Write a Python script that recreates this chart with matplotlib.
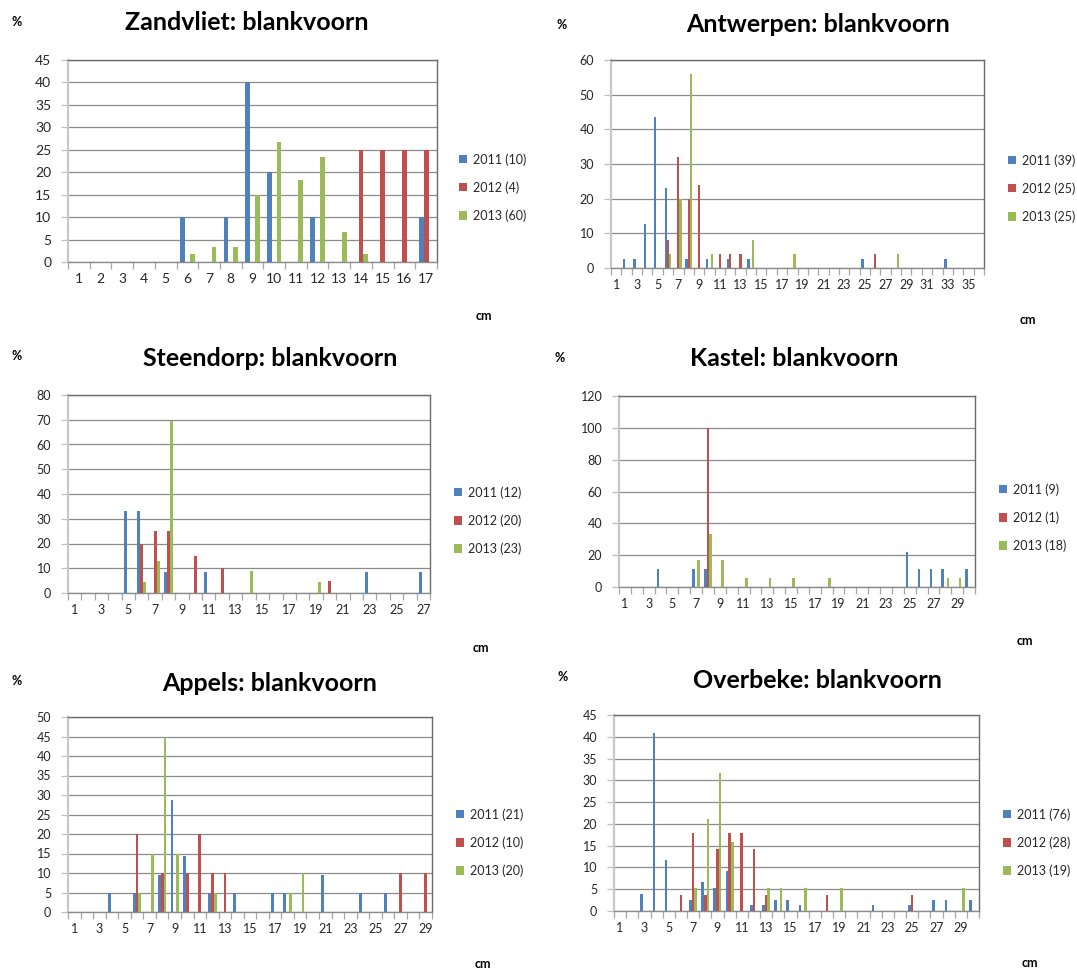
import matplotlib
matplotlib.use('Agg')
import matplotlib.pyplot as plt
import numpy as np
from matplotlib.patches import Patch

plt.rcParams['font.family'] = ['Lato', 'DejaVu Sans']

W, H = 1077, 972
years = ['2011', '2012', '2013']
colors = ['#4F81BD', '#C0504D', '#9BBB59']

# ---------------- data (cm class -> % per year) ----------------
zand_ncat = 17
zand_n = [10, 4, 60]
zand_2011_cm = [6, 8, 9, 10, 12, 17]
zand_2011_pct = [10, 10, 40, 20, 10, 10]
zand_2012_cm = [14, 15, 16, 17]
zand_2012_pct = [25, 25, 25, 25]
zand_2013_cm = [6, 7, 8, 9, 10, 11, 12, 13, 14]
zand_2013_pct = [1.7, 3.3, 3.3, 15, 26.7, 18.3, 23.3, 6.7, 1.7]

antw_ncat = 36
antw_n = [39, 25, 25]
antw_2011_cm = [2, 3, 4, 5, 6, 8, 10, 12, 14, 25, 33]
antw_2011_pct = [2.6, 2.6, 12.8, 43.6, 23.1, 2.6, 2.6, 2.6, 2.6, 2.6, 2.6]
antw_2012_cm = [6, 7, 8, 9, 11, 12, 13, 26]
antw_2012_pct = [8, 32, 20, 24, 4, 4, 4, 4]
antw_2013_cm = [6, 7, 8, 10, 14, 18, 28]
antw_2013_pct = [4, 20, 56, 4, 8, 4, 4]

steen_ncat = 27
steen_n = [12, 20, 23]
steen_2011_cm = [5, 6, 8, 11, 23, 27]
steen_2011_pct = [33.3, 33.3, 8.3, 8.3, 8.3, 8.3]
steen_2012_cm = [6, 7, 8, 10, 12, 20]
steen_2012_pct = [20, 25, 25, 15, 10, 5]
steen_2013_cm = [6, 7, 8, 14, 19]
steen_2013_pct = [4.3, 13.0, 69.6, 8.7, 4.3]

kast_ncat = 30
kast_n = [9, 1, 18]
kast_2011_cm = [4, 7, 8, 25, 26, 27, 28, 30]
kast_2011_pct = [11.1, 11.1, 11.1, 22.2, 11.1, 11.1, 11.1, 11.1]
kast_2012_cm = [8]
kast_2012_pct = [100]
kast_2013_cm = [7, 8, 9, 11, 13, 15, 18, 28, 29]
kast_2013_pct = [16.7, 33.3, 16.7, 5.6, 5.6, 5.6, 5.6, 5.6, 5.6]

app_ncat = 29
app_n = [21, 10, 20]
app_2011_cm = [4, 6, 8, 9, 10, 12, 14, 17, 18, 21, 24, 26]
app_2011_pct = [4.8, 4.8, 9.5, 28.6, 14.3, 4.8, 4.8, 4.8, 4.8, 9.5, 4.8, 4.8]
app_2012_cm = [6, 8, 10, 11, 12, 13, 27, 29]
app_2012_pct = [20, 10, 10, 20, 10, 10, 10, 10]
app_2013_cm = [6, 7, 8, 9, 12, 18, 19]
app_2013_pct = [5, 15, 45, 15, 5, 5, 10]

over_ncat = 30
over_n = [76, 28, 19]
over_2011_cm = [3, 4, 5, 7, 8, 9, 10, 12, 13, 14, 15, 16, 22, 25, 27, 28, 30]
over_2011_pct = [3.9, 40.8, 11.8, 2.6, 6.6, 5.3, 9.2, 1.3, 1.3, 2.6, 2.6, 1.3, 1.3, 1.3, 2.6, 2.6, 2.6]
over_2012_cm = [6, 7, 8, 9, 10, 11, 12, 13, 18, 25]
over_2012_pct = [3.6, 17.9, 3.6, 14.3, 17.9, 17.9, 14.3, 3.6, 3.6, 3.6]
over_2013_cm = [7, 8, 9, 10, 13, 14, 16, 19, 29]
over_2013_pct = [5.3, 21.1, 31.6, 15.8, 5.3, 5.3, 5.3, 5.3, 5.3]

panels = [
    dict(title='Zandvliet: blankvoorn', ncat=zand_ncat, n=zand_n,
         series=[(zand_2011_cm, zand_2011_pct), (zand_2012_cm, zand_2012_pct), (zand_2013_cm, zand_2013_pct)],
         ymax=45, ystep=5, every=1, rect=(68, 60, 437, 262), tpos=(247, 22), ppos=(17, 22),
         lpos=(459, 153), cpos=(484, 316), fs=10),
    dict(title='Antwerpen: blankvoorn', ncat=antw_ncat, n=antw_n,
         series=[(antw_2011_cm, antw_2011_pct), (antw_2012_cm, antw_2012_pct), (antw_2013_cm, antw_2013_pct)],
         ymax=60, ystep=10, every=2, rect=(611, 60, 984, 268), tpos=(818, 25), ppos=(562, 25),
         lpos=(1008, 154), cpos=(1028, 320), fs=9),
    dict(title='Steendorp: blankvoorn', ncat=steen_ncat, n=steen_n,
         series=[(steen_2011_cm, steen_2011_pct), (steen_2012_cm, steen_2012_pct), (steen_2013_cm, steen_2013_pct)],
         ymax=80, ystep=10, every=2, rect=(68, 395, 430, 593), tpos=(270, 358), ppos=(17, 356),
         lpos=(454, 486), cpos=(481, 648), fs=9),
    dict(title='Kastel: blankvoorn', ncat=kast_ncat, n=kast_n,
         series=[(kast_2011_cm, kast_2011_pct), (kast_2012_cm, kast_2012_pct), (kast_2013_cm, kast_2013_pct)],
         ymax=120, ystep=20, every=2, rect=(619, 396, 975, 587), tpos=(794, 358), ppos=(560, 358),
         lpos=(999, 483), cpos=(1025, 641), fs=9),
    dict(title='Appels: blankvoorn', ncat=app_ncat, n=app_n,
         series=[(app_2011_cm, app_2011_pct), (app_2012_cm, app_2012_pct), (app_2013_cm, app_2013_pct)],
         ymax=50, ystep=5, every=2, rect=(68, 717, 432, 912), tpos=(270, 683), ppos=(17, 681),
         lpos=(456, 808), cpos=(483, 964), fs=9),
    dict(title='Overbeke: blankvoorn', ncat=over_ncat, n=over_n,
         series=[(over_2011_cm, over_2011_pct), (over_2012_cm, over_2012_pct), (over_2013_cm, over_2013_pct)],
         ymax=45, ystep=5, every=2, rect=(614, 715, 979, 911), tpos=(817, 681), ppos=(563, 677),
         lpos=(1003, 808), cpos=(1030, 963), fs=9),
]

fig = plt.figure(figsize=(W / 100, H / 100), dpi=100)

def fx(x):
    return x / W

def fy(y):
    return 1 - y / H

for p in panels:
    l, t, r, b = p['rect']
    ax = fig.add_axes([fx(l), fy(b), (r - l) / W, (b - t) / H])
    N = p['ncat']
    cats = np.arange(1, N + 1)
    w = 1 / 4.5
    handles = []
    for i, ((cm, pct), c, yr, nn) in enumerate(zip(p['series'], colors, years, p['n'])):
        vals = np.zeros(N)
        vals[np.array(cm) - 1] = pct
        mask = vals > 0
        ax.bar(cats[mask] + (i - 1) * w, vals[mask], width=w, color=c, linewidth=0, zorder=3)
        handles.append(Patch(facecolor=c, edgecolor='none', label=f'{yr} ({nn})'))

    ax.set_xlim(0.5, N + 0.5)
    ax.set_ylim(0, p['ymax'])
    yt = np.arange(0, p['ymax'] + 0.1, p['ystep'])
    ax.set_yticks(yt)
    ax.set_yticklabels([f'{v:g}' for v in yt], fontsize=p['fs'], color='#262626')
    ax.yaxis.grid(True, color='#8c8c8c', linewidth=0.9, zorder=0)
    ax.set_axisbelow(True)

    ax.set_xticks(np.arange(0.5, N + 1, 1))
    ax.set_xticklabels([])
    ax.set_xticks(cats, minor=True)
    ax.set_xticklabels([str(c) if (c - 1) % p['every'] == 0 else '' for c in cats],
                       minor=True, fontsize=p['fs'], color='#262626')
    ax.tick_params(axis='x', which='major', length=5, color='#a6a6a6', width=0.9, direction='out')
    ax.tick_params(axis='x', which='minor', length=0, pad=8)
    ax.tick_params(axis='y', length=5, color='#bfbfbf', width=0.9, direction='out', pad=7)

    ax.spines['left'].set_color('#c8c8c8')
    ax.spines['left'].set_linewidth(1.6)
    ax.spines['bottom'].set_color('#8c8c8c')
    ax.spines['bottom'].set_linewidth(1.0)
    for s in ('top', 'right'):
        ax.spines[s].set_color('#6b6b6b')
        ax.spines[s].set_linewidth(1.0)

    leg = ax.legend(handles=handles, loc='upper left',
                    bbox_to_anchor=(fx(p['lpos'][0]), fy(p['lpos'][1])),
                    bbox_transform=fig.transFigure, frameon=False,
                    handlelength=0.65, handleheight=0.65, handletextpad=0.5,
                    labelspacing=1.25, borderaxespad=0, borderpad=0, fontsize=9)
    for txt in leg.get_texts():
        txt.set_color('#262626')

    fig.text(fx(p['tpos'][0]), fy(p['tpos'][1]), p['title'], ha='center', va='center',
             fontsize=18, fontweight='bold', color='black')
    fig.text(fx(p['ppos'][0]), fy(p['ppos'][1]), '%', ha='center', va='center',
             fontsize=9, fontweight='bold', color='black')
    fig.text(fx(p['cpos'][0]), fy(p['cpos'][1]), 'cm', ha='center', va='center',
             fontsize=9, fontweight='bold', color='black')

fig.savefig('out.png', dpi=100, facecolor='white')
